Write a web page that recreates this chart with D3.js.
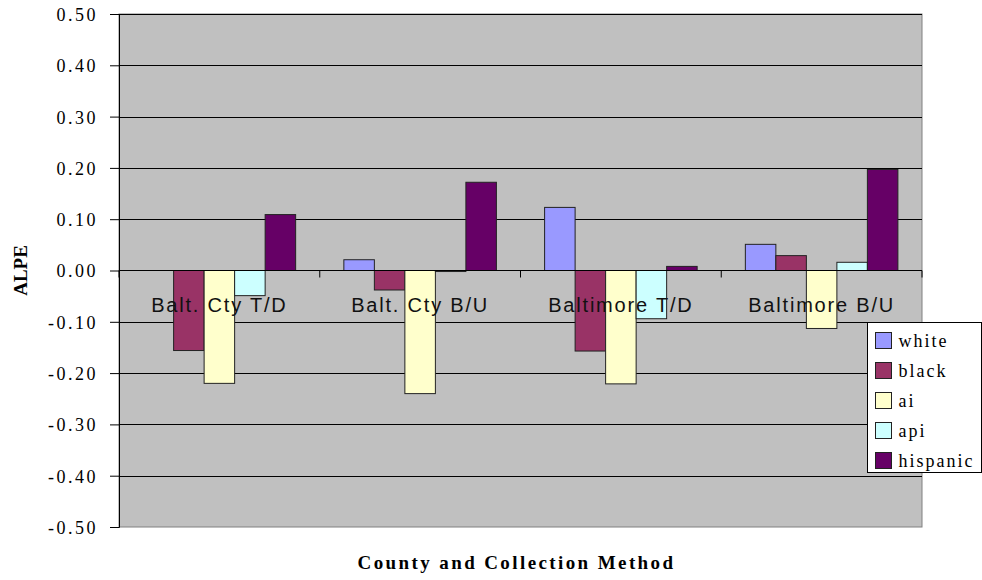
<!DOCTYPE html>
<html>
<head>
<meta charset="utf-8">
<script src="https://cdn.jsdelivr.net/npm/d3@7"></script>
<style>
  body { margin: 0; background: #fff; }
  svg { display: block; }
</style>
</head>
<body>
<div id="chart"></div>
<script>
// categories on the x axis
const categories = ["Balt. Cty T/D", "Balt. Cty B/U", "Baltimore T/D", "Baltimore B/U"];
// series names and colours
const seriesNames = ["white", "black", "ai", "api", "hispanic"];
const seriesColors = ["#9999FF", "#993366", "#FFFFCC", "#CCFFFF", "#660066"];
// values per series, one per category
const white    = [0.000, 0.021, 0.123, 0.051];
const black    = [-0.156, -0.038, -0.157, 0.029];
const ai       = [-0.220, -0.240, -0.221, -0.113];
const api      = [-0.049, -0.002, -0.094, 0.016];
const hispanic = [0.109, 0.172, 0.008, 0.197];
const yTicks = [0.5, 0.4, 0.3, 0.2, 0.1, 0, -0.1, -0.2, -0.3, -0.4, -0.5];

const seriesValues = [white, black, ai, api, hispanic];

const width = 982, height = 580;
const margin = {top: 14, right: 60, bottom: 53, left: 119};
const innerwidth = width - margin.left - margin.right;   // 803
const innerheight = height - margin.top - margin.bottom; // 513

const serif = "'Liberation Serif', 'Times New Roman', Times, serif";

const svg = d3.select("#chart").append("svg")
    .attr("width", width)
    .attr("height", height);

const g = svg.append("g")
    .attr("transform", `translate(${margin.left}, ${margin.top})`);

// scales
const x0 = d3.scaleBand().domain(categories).range([0, innerwidth]).paddingInner(0).paddingOuter(0);
const x1 = d3.scaleBand().domain(seriesNames).range([0, x0.bandwidth()]).paddingOuter(0.79).paddingInner(0);
const y = d3.scaleLinear().domain([-0.5, 0.5]).range([innerheight, 0]);

// plot background
g.append("rect")
    .attr("width", innerwidth)
    .attr("height", innerheight)
    .attr("fill", "#C0C0C0")
    .attr("stroke", "#808080")
    .attr("stroke-width", 1);

// gridlines
g.append("g")
    .selectAll("line")
    .data(yTicks.filter(d => d !== 0 && d !== -0.5))
    .join("line")
    .attr("x1", 0).attr("x2", innerwidth)
    .attr("y1", d => Math.round(y(d)) + 0.5)
    .attr("y2", d => Math.round(y(d)) + 0.5)
    .attr("stroke", "#000")
    .attr("stroke-width", 1);

// y axis
const yAxis = g.append("g")
    .attr("font-family", serif)
    .call(d3.axisLeft(y).tickValues(yTicks).tickSize(9).tickPadding(12)
        .tickFormat(d => d3.format(".2f")(d).replace("\u2212", "-")));
yAxis.attr("font-family", serif).attr("font-size", 18);
yAxis.select(".domain").attr("stroke", "#000");
yAxis.selectAll(".tick line").attr("stroke", "#000");
yAxis.selectAll("text")
    .style("font-family", serif)
    .attr("font-size", 18)
    .attr("letter-spacing", 2.5)
    .attr("fill", "#000")
    .attr("dy", "0.36em");

// bars
const groups = g.append("g")
    .selectAll("g")
    .data(categories)
    .join("g")
    .attr("transform", d => `translate(${x0(d)}, 0)`);

groups.selectAll("rect")
    .data((c, ci) => seriesNames.map((s, si) => ({s: s, v: seriesValues[si][ci], color: seriesColors[si]})).filter(d => d.v !== 0))
    .join("rect")
    .attr("x", d => x1(d.s))
    .attr("y", d => y(Math.max(0, d.v)))
    .attr("width", x1.bandwidth())
    .attr("height", d => Math.max(1, Math.abs(y(d.v) - y(0))))
    .attr("fill", d => d.color)
    .attr("stroke", "#222")
    .attr("stroke-width", 1);

// zero line + category tick marks
const xAxis = g.append("g")
    .attr("transform", `translate(0, ${y(0)})`);
xAxis.append("line")
    .attr("x1", 0).attr("x2", innerwidth)
    .attr("stroke", "#000").attr("stroke-width", 1.2);
xAxis.selectAll(".ctick")
    .data(categories.map(c => x0(c)).concat([innerwidth]))
    .join("line")
    .attr("class", "ctick")
    .attr("x1", d => d).attr("x2", d => d)
    .attr("y1", 0).attr("y2", 7)
    .attr("stroke", "#000");

// category labels drawn on top of the bars
g.append("g")
    .selectAll("text")
    .data(categories)
    .join("text")
    .attr("x", d => x0(d) + x0.bandwidth() / 2)
    .attr("y", y(0) + 41)
    .attr("text-anchor", "middle")
    .attr("font-family", "'Liberation Sans', Arial, sans-serif")
    .attr("font-size", 20)
    .attr("letter-spacing", 1.8)
    .attr("fill", "#111")
    .text(d => d);

// axis titles
svg.append("text")
    .attr("x", margin.left + innerwidth / 2 - 4)
    .attr("y", 569)
    .attr("text-anchor", "middle")
    .attr("font-family", serif)
    .attr("font-weight", "bold")
    .attr("font-size", 19)
    .attr("letter-spacing", 2.4)
    .text("County and Collection Method");

svg.append("text")
    .attr("transform", `translate(27, ${margin.top + y(0)}) rotate(-90)`)
    .attr("text-anchor", "middle")
    .attr("font-family", serif)
    .attr("font-weight", "bold")
    .attr("font-size", 19)
    .text("ALPE");

// legend
const legend = svg.append("g")
    .attr("transform", "translate(867.5, 322.5)");
legend.append("rect")
    .attr("width", 114)
    .attr("height", 150)
    .attr("fill", "#fff")
    .attr("stroke", "#000");
const items = legend.selectAll(".item")
    .data(seriesNames)
    .join("g")
    .attr("class", "item")
    .attr("transform", (d, i) => `translate(8, ${18 + i * 30})`);
items.append("rect")
    .attr("x", 0).attr("y", -8)
    .attr("width", 16).attr("height", 16)
    .attr("fill", (d, i) => seriesColors[i])
    .attr("stroke", "#222");
items.append("text")
    .attr("x", 23)
    .attr("y", 0)
    .attr("dy", "0.35em")
    .attr("font-family", serif)
    .attr("font-size", 18)
    .attr("letter-spacing", 2)
    .text(d => d);
</script>
</body>
</html>
